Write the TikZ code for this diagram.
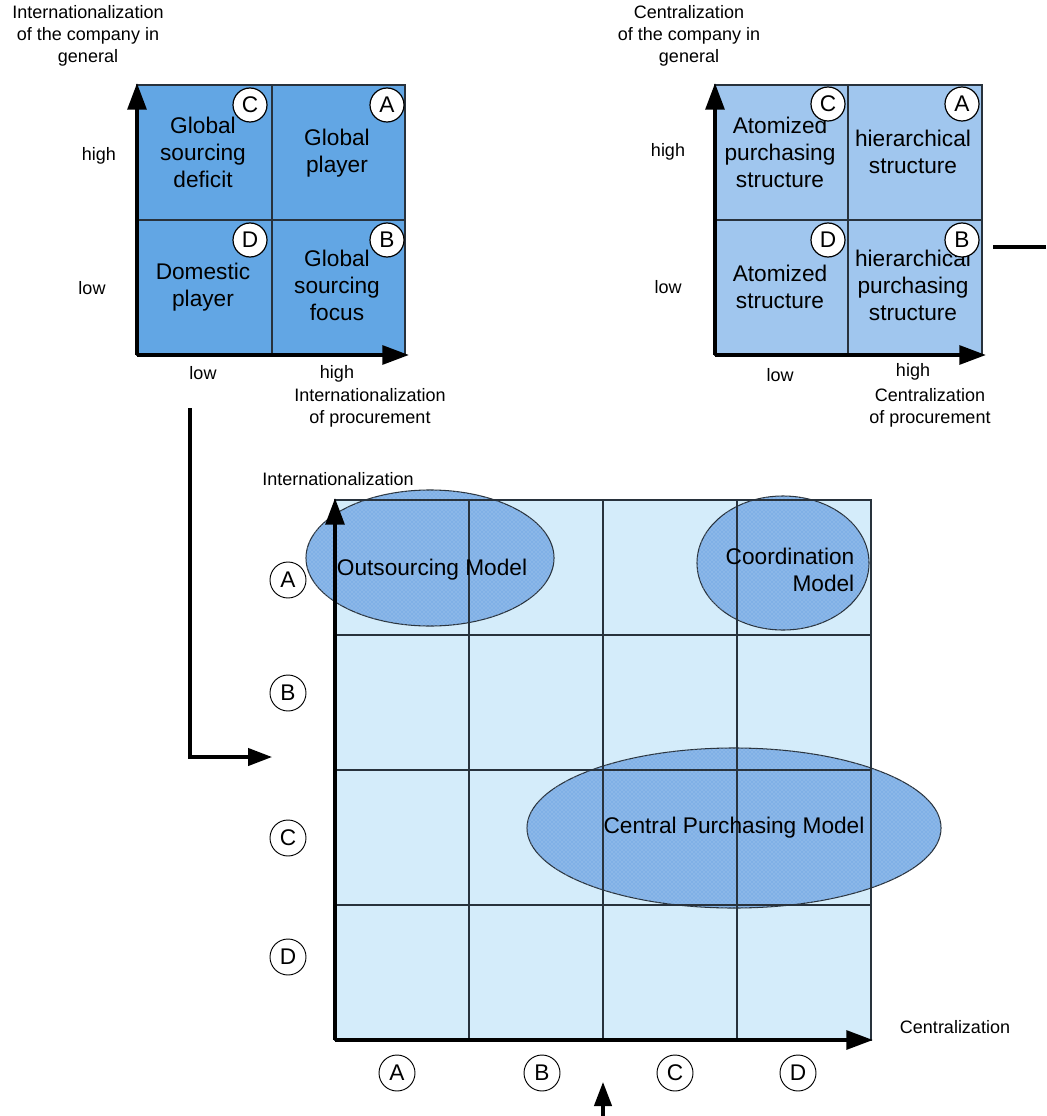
\documentclass[tikz,border=0pt]{standalone}
\usepackage{fontspec}
\setmainfont{Liberation Sans}
\usetikzlibrary{arrows.meta,shapes.geometric,patterns}

\definecolor{quadA}{RGB}{98,166,228}
\definecolor{quadB}{RGB}{160,198,238}
\definecolor{gridfill}{RGB}{212,236,250}
\definecolor{modelfill}{RGB}{128,176,230}
\definecolor{modeldots}{RGB}{178,208,242}
\definecolor{gridline}{RGB}{40,50,60}

\begin{document}
\begin{tikzpicture}[x=0.75pt,y=-0.75pt,
  cell/.style={font=\fontsize{17}{20.25}\selectfont, align=center, inner sep=0pt},
  lbl/.style={font=\fontsize{13.5}{16.5}\selectfont, align=center, inner sep=0pt},
  badge/.style={circle, draw=black, fill=white, line width=0.9pt, minimum size=25.5pt,
    inner sep=0pt, font=\fontsize{17}{17}\selectfont},
  bigbadge/.style={badge, fill=none, minimum size=27pt, line width=0.7pt},
  thin/.style={draw=gridline, line width=0.8pt},
  axis/.style={line width=3pt, -{Triangle[length=20pt,width=14pt]}},
  link/.style={line width=2.4pt, -{Triangle[length=18pt,width=13pt]}},
  model/.style={ellipse, draw=gridline, fill=modelfill, line width=0.8pt, inner sep=0pt,
    postaction={pattern=crosshatch dots, pattern color=modeldots}},
]
\useasboundingbox (0,0) rectangle (1046,1116);

% ---------- matrix 1: internationalization ----------
\fill[quadA] (137,85) rectangle (405,355);
\draw[thin] (137,85) rectangle (405,355) (272,85) -- (272,355) (137,220) -- (405,220);
\coordinate (o1) at (137,355);
\coordinate (y1) at (137,83);
\coordinate (x1) at (409,355);
\draw[axis] (o1) -- (y1);
\draw[axis] (o1) -- (x1);

\node[lbl] (t1) at (88,36) {Internationalization\\of the company in\\general};
\node[lbl] (h1) at (99,156) {high};
\node[lbl] (l1) at (92,288) {low};
\node[lbl] (lx1) at (203,373) {low};
\node[lbl] (hx1) at (337,374) {high};
\node[lbl] (xt1) at (370,408) {Internationalization\\of procurement};

\node[cell] (q1c) at (203,152) {Global\\sourcing\\deficit};
\node[cell] (q1a) at (337,153) {Global\\player};
\node[cell] (q1d) at (203,287) {Domestic\\player};
\node[cell] (q1b) at (337,285) {Global\\sourcing\\focus};

\node[badge] (c1C) at (250,105) {C};
\node[badge] (c1A) at (387,105) {A};
\node[badge] (c1D) at (250,240) {D};
\node[badge] (c1B) at (387,240) {B};

% ---------- matrix 2: centralization ----------
\fill[quadB] (715,85) rectangle (982,355);
\draw[thin] (715,85) rectangle (982,355) (848,85) -- (848,355) (715,220) -- (982,220);
\coordinate (o2) at (715,355);
\coordinate (y2) at (715,83);
\coordinate (x2) at (986,355);
\draw[axis] (o2) -- (y2);
\draw[axis] (o2) -- (x2);

\node[lbl] (t2) at (689,36) {Centralization\\of the company in\\general};
\node[lbl] (h2) at (668,152) {high};
\node[lbl] (l2) at (668,287) {low};
\node[lbl] (lx2) at (780,375) {low};
\node[lbl] (hx2) at (913,372) {high};
\node[lbl] (xt2) at (930,408) {Centralization\\of procurement};

\node[cell] (q2c) at (780,152) {Atomized\\purchasing\\structure};
\node[cell] (q2a) at (913,152) {hierarchical\\structure};
\node[cell] (q2d) at (780,287) {Atomized\\structure};
\node[cell] (q2b) at (913,285) {hierarchical\\purchasing\\structure};

\node[badge] (c2C) at (828,104) {C};
\node[badge] (c2A) at (962,104) {A};
\node[badge] (c2D) at (828,240) {D};
\node[badge] (c2B) at (962,240) {B};

\coordinate (r0) at (993,247);
\coordinate (r1) at (1046,247);
\draw[line width=2.4pt] (r0) -- (r1);

% ---------- combined model matrix ----------
\fill[gridfill] (335,500) rectangle (871,1040);

\node[model, minimum width=186pt, minimum height=102pt] (outs) at (430,558) {};
\node[model, minimum width=129pt, minimum height=100.5pt] (coord) at (783,563) {};
\node[model, minimum width=310.5pt, minimum height=120pt] (central) at (734,828) {};

\draw[thin] (335,500) rectangle (871,1040);
\draw[thin] (469,500) -- (469,1040) (603,500) -- (603,1040) (737,500) -- (737,1040);
\draw[thin] (335,635) -- (871,635) (335,770) -- (871,770) (335,905) -- (871,905);

\coordinate (o3) at (335,1040);
\coordinate (y3) at (335,498);
\coordinate (x3) at (873,1040);
\draw[axis] (o3) -- (y3);
\draw[axis] (o3) -- (x3);

\node[cell] (outsT) at (432,570) {Outsourcing Model};
\node[cell, align=right] (coordT) at (790,570) {Coordination\\Model};
\node[cell] (centralT) at (734,828) {Central Purchasing Model};

\node[lbl] (yt3) at (338,479) {Internationalization};
\node[lbl] (xt3) at (955,1027) {Centralization};

\node[bigbadge] (rA) at (288,580) {A};
\node[bigbadge] (rB) at (288,693) {B};
\node[bigbadge] (rC) at (288,838) {C};
\node[bigbadge] (rD) at (288,957) {D};

\node[bigbadge] (kA) at (397,1073) {A};
\node[bigbadge] (kB) at (542,1073) {B};
\node[bigbadge] (kC) at (675,1073) {C};
\node[bigbadge] (kD) at (798,1073) {D};

% ---------- feeding arrows ----------
\coordinate (l0) at (190,408);
\coordinate (l1e) at (272,757);
\draw[link] (l0) |- (l1e);

\coordinate (b0) at (603,1116);
\coordinate (b1) at (603,1082);
\draw[link] (b0) -- (b1);
\end{tikzpicture}
\end{document}
